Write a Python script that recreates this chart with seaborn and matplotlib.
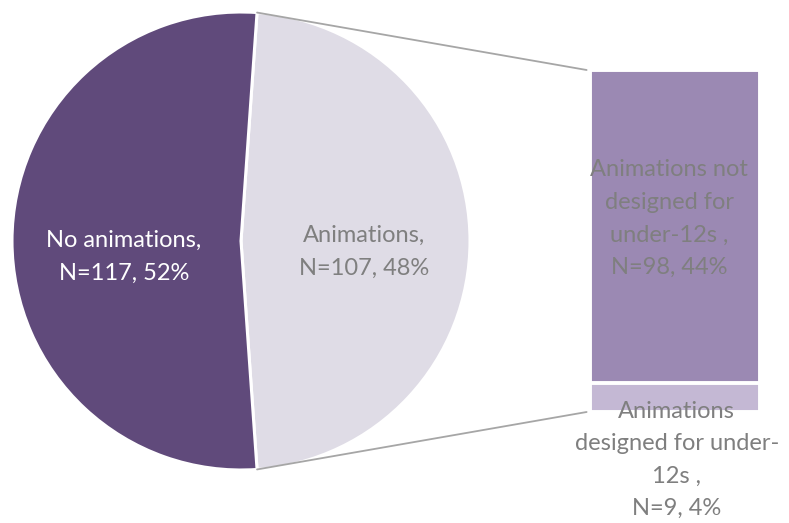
import matplotlib
matplotlib.use("Agg")
import matplotlib.pyplot as plt
import seaborn as sns
import numpy as np
import pandas as pd
from matplotlib.patches import ConnectionPatch

# Pie: overall split
pie_labels = ["Animations,\nN=107, 48%", "No animations,\nN=117, 52%"]
pie_values = [107, 117]
pie_colors = ["#DFDCE6", "#604A7B"]

# Bar: breakdown of the "Animations" slice
bar_labels = ["Animations\ndesigned for under-\n12s ,\nN=9, 4%",
              "Animations not\ndesigned for\nunder-12s ,\nN=98, 44%"]
bar_values = [9, 98]
bar_colors = ["#C4B8D4", "#9B89B3"]

sns.set_theme(style="white")
plt.rcParams["font.family"] = ["Lato", "DejaVu Sans"]

W, H = 789, 523
fig = plt.figure(figsize=(W / 100, H / 100), dpi=100)
fig.patch.set_facecolor("white")

# Pie axes in pixel units (y up)
ax = fig.add_axes([0, 0, 1, 1])
cx, cy, r = 241, H - 241, 229
start = -pie_values[0] / sum(pie_values) * 360 / 2
wedges, _ = ax.pie(pie_values, colors=pie_colors, startangle=start,
                   center=(cx, cy), radius=r, counterclock=True,
                   wedgeprops=dict(edgecolor="white", linewidth=2.2))
ax.set_xlim(0, W)
ax.set_ylim(0, H)
ax.set_aspect("equal")
ax.axis("off")

text_grey = "#7F7F7F"
fs = 17
ls = 1.68
ax.text(cx + 123, cy - 11, pie_labels[0], ha="center", va="center",
        color=text_grey, fontsize=fs, linespacing=ls)
ax.text(cx - 117, cy - 16, pie_labels[1], ha="center", va="center",
        color="white", fontsize=fs, linespacing=ls)

# Stacked bar axes
bx0, bx1, by0, by1 = 590, 760, 70, 412
bax = fig.add_axes([bx0 / W, 1 - by1 / H, (bx1 - bx0) / W, (by1 - by0) / H])
total = sum(bar_values)
df_full = pd.DataFrame({"g": ["a"], "v": [total]})
df_small = pd.DataFrame({"g": ["a"], "v": [bar_values[0]]})
sns.barplot(data=df_full, x="g", y="v", color=bar_colors[1], saturation=1,
            width=1, edgecolor="white", linewidth=2.8, ax=bax)
sns.barplot(data=df_small, x="g", y="v", color=bar_colors[0], saturation=1,
            width=1, edgecolor="white", linewidth=2.8, ax=bax)
bax.set_xlim(-0.5, 0.5)
bax.set_ylim(0, total)
bax.axis("off")

bax.text(-0.035, bar_values[0] + bar_values[1] / 2 + 2.5, bar_labels[1],
         ha="center", va="center", color=text_grey, fontsize=fs,
         linespacing=ls)
bax.text(0.01, -15, bar_labels[0], ha="center", va="center", color=text_grey,
         fontsize=fs, linespacing=ls, clip_on=False)

# Connector lines from the edges of the "Animations" wedge to the bar
theta = np.deg2rad(pie_values[0] / sum(pie_values) * 360 / 2)
top_pt = (cx + r * np.cos(theta), cy + r * np.sin(theta))
bot_pt = (cx + r * np.cos(theta), cy - r * np.sin(theta))
for pt, yb in [(top_pt, total), (bot_pt, 0)]:
    con = ConnectionPatch(xyA=pt, coordsA=ax.transData,
                          xyB=(-0.52, yb), coordsB=bax.transData,
                          color="#A6A6A6", linewidth=1.3)
    fig.add_artist(con)

fig.savefig("out.png", dpi=100, facecolor="white")
